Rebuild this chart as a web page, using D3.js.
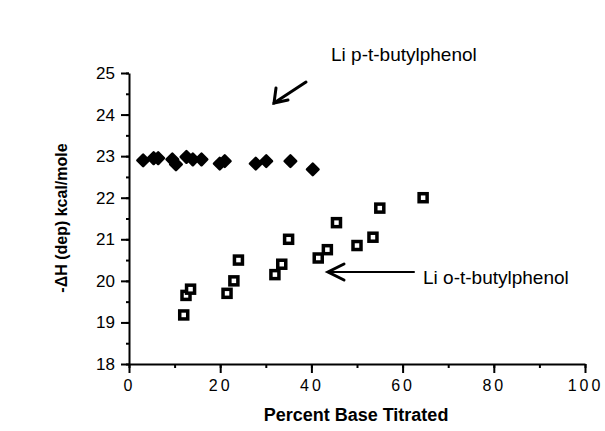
<!DOCTYPE html>
<html>
<script src='https://d3js.org/d3.v7.min.js'></script>
<style>
body { margin: 0; background: white; }
text { font-family: "Liberation Sans", Arial, sans-serif; }
</style>
<body>
<svg id="chart" width=605 height=431></svg>
<script>
// Li p-t-butylphenol (filled diamonds)
var paraX = [3.1, 5.4, 6.4, 9.5, 10.3, 12.6, 14.0, 15.9, 19.9, 21.0, 27.8, 30.1, 35.4, 40.3];
var paraY = [22.9, 22.95, 22.95, 22.92, 22.8, 22.98, 22.92, 22.92, 22.82, 22.88, 22.82, 22.88, 22.88, 22.68];
// Li o-t-butylphenol (open squares)
var orthoX = [12.0, 12.5, 13.5, 21.5, 23.0, 24.0, 32.0, 33.5, 35.0, 41.5, 43.5, 45.5, 50.0, 53.5, 55.0, 64.5];
var orthoY = [19.18, 19.65, 19.8, 19.7, 20.0, 20.5, 20.15, 20.4, 21.0, 20.55, 20.75, 21.4, 20.85, 21.05, 21.75, 22.0];
var xTicks = [0, 20, 40, 60, 80, 100];
var yTicks = [18, 19, 20, 21, 22, 23, 24, 25];

var svg = d3.select("#chart");
var x = d3.scaleLinear().domain([0, 100]).range([129, 585]);
var y = d3.scaleLinear().domain([18, 25]).range([364, 73]);

// minor ticks
var gx = svg.append("g").attr("transform", "translate(0,364)");
gx.call(d3.axisBottom(x).tickValues(d3.range(0, 101, 10)).tickSize(4).tickFormat(""));
gx.call(g => g.select(".domain").remove());
var gx2 = svg.append("g").attr("transform", "translate(0,364)")
  .call(d3.axisBottom(x).tickValues(xTicks).tickSize(9).tickPadding(7).tickSizeOuter(0).tickFormat(d3.format("d")));
gx2.selectAll("text").style("font-size", "16px").style("letter-spacing", "3px").attr("fill", "#000");

var gy = svg.append("g").attr("transform", "translate(129,0)");
gy.call(d3.axisLeft(y).tickValues(d3.range(18, 25.01, 0.5)).tickSize(3).tickFormat(""));
gy.call(g => g.select(".domain").remove());
var gy2 = svg.append("g").attr("transform", "translate(129,0)")
  .call(d3.axisLeft(y).tickValues(yTicks).tickSize(8).tickPadding(6).tickSizeOuter(0).tickFormat(d3.format("d")));
gy2.selectAll("text").style("font-size", "17px").attr("fill", "#000");

svg.selectAll(".domain").attr("stroke", "#000").attr("stroke-width", 2);
svg.selectAll(".tick line").attr("stroke", "#000").attr("stroke-width", 2);

// diamonds
svg.append("g").selectAll("path").data(paraX).enter().append("path")
  .attr("d", d3.symbol().type(d3.symbolDiamond2).size(85))
  .attr("transform", (d, i) => "translate(" + x(d) + "," + y(paraY[i]) + ")")
  .attr("fill", "#000").attr("stroke", "#000").attr("stroke-width", 2.5).attr("stroke-linejoin", "round");

// squares
svg.append("g").selectAll("rect").data(orthoX).enter().append("rect")
  .attr("x", d => x(d) - 4).attr("y", (d, i) => y(orthoY[i]) - 4)
  .attr("width", 8).attr("height", 8)
  .attr("fill", "#fff").attr("stroke", "#000").attr("stroke-width", 3.5);

// axis titles
svg.append("text").attr("x", 356).attr("y", 421).attr("text-anchor", "middle")
  .attr("font-weight", "bold").style("font-size", "18px").text("Percent Base Titrated");
svg.append("text").attr("transform", "translate(67,218) rotate(-90)").attr("text-anchor", "middle")
  .attr("font-weight", "bold").style("font-size", "16px").text("-ΔH (dep)  kcal/mole");

// annotations
svg.append("text").attr("x", 331).attr("y", 61).style("font-size", "19px").text("Li p-t-butylphenol");
svg.append("text").attr("x", 423).attr("y", 284).style("font-size", "19px").text("Li o-t-butylphenol");

var arrow = svg.append("g").attr("stroke", "#000").attr("stroke-width", 3).attr("fill", "none")
  .attr("stroke-linecap", "round");
arrow.append("line").attr("x1", 306).attr("y1", 82).attr("x2", 274).attr("y2", 103);
arrow.append("path").attr("d", "M276,88 L274,103 L288,100");
arrow.append("line").attr("x1", 414).attr("y1", 272).attr("x2", 328).attr("y2", 272).attr("stroke-width", 2);
arrow.append("path").attr("d", "M344,264 L328,272 L344,280");
</script>
</body>
</html>
